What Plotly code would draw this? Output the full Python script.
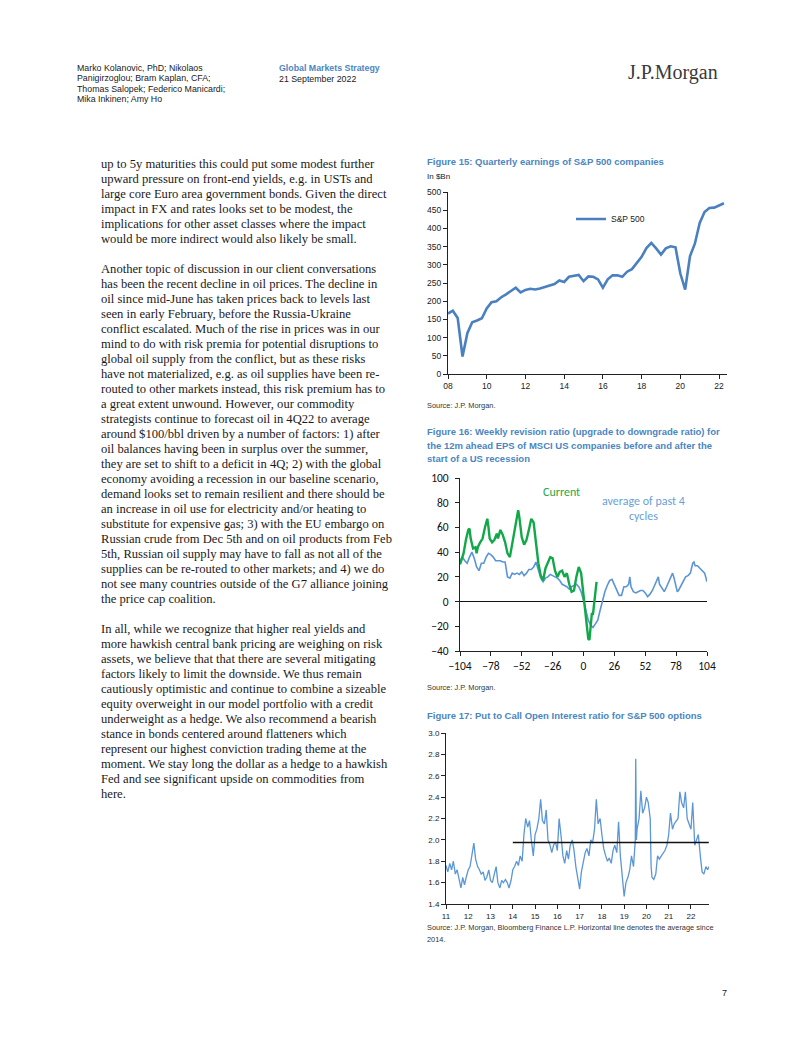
import plotly.graph_objects as go

W, H = 802, 1037
OFF = 8  # the page body margin shifts the figure by this many pixels

# ---------------- DATA ----------------
# Figure 15: quarterly S&P 500 earnings ($bn), 2008Q1 .. 2022Q2
sp_quarters = [2008 + i * 0.25 for i in range(58)]
sp_earnings = [166, 174, 154, 48, 112, 142, 147, 153, 180, 197, 200, 211,
               219, 228, 237, 224, 231, 234, 232, 235, 239, 244, 247, 257,
               253, 267, 269, 272, 255, 268, 267, 260, 237, 260, 271, 271,
               267, 281, 288, 306, 322, 346, 360, 345, 328, 345, 351, 348,
               276, 232, 324, 358, 415, 445, 456, 457, 463, 469]

# Figure 16: weekly revision ratio, weeks relative to recession start
cur_weeks = [-104, -101, -99, -97, -96, -95, -93, -91, -90, -89, -87, -85, -83, -81,
             -80, -79, -77, -75, -73, -72, -70, -68, -66, -64, -62, -60, -58, -56,
             -55, -54, -52, -50, -48, -46, -44, -42, -40, -38, -36, -34, -32, -30,
             -28, -26, -24, -22, -20, -18, -16, -14, -12, -10, -8, -6, -4, -2,
             0, 2, 4, 5, 6, 7, 8, 9, 10, 11]
cur_ratio = [30, 39, 50, 58, 59, 51, 43, 44, 39, 44, 48, 51, 60, 67,
             60, 51, 48, 50, 55, 51, 58, 54, 48, 39, 36, 47, 55, 68,
             74, 68, 52, 46, 50, 58, 67, 64, 47, 31, 21, 17, 27, 32,
             36, 35, 25, 20, 24, 25, 20, 23, 14, 8, 9, 20, 28, 23,
             4, -12, -30, -31, -18, -10, -10, 1, 10, 16]
avg_weeks = [-104, -102, -100, -98, -96, -94, -92, -90, -88, -86, -84, -82, -80, -78,
             -76, -74, -72, -70, -68, -66, -64, -62, -60, -58, -56, -54, -52, -50,
             -48, -46, -44, -42, -40, -38, -36, -34, -32, -30, -28, -26, -24, -22,
             -20, -18, -16, -14, -12, -10, -8, -6, -4, -2, 0, 2, 4, 6, 8, 10, 12,
             14, 16, 18, 20, 22, 24, 26, 28, 30, 32, 34, 36, 38, 39, 40, 42, 44,
             46, 48, 50, 52, 54, 56, 58, 60, 62, 63, 64, 66, 68, 70, 72, 74, 75,
             76, 78, 79, 80, 82, 84, 86, 88, 90, 92, 93, 94, 96, 98, 100, 102, 104]
avg_ratio = [33, 36, 33, 31, 36, 40, 35, 28, 25, 31, 31, 36, 39, 38,
             36, 33, 33, 33, 32, 32, 20, 19, 23, 22, 23, 22, 24, 21,
             23, 26, 26, 28, 32, 25, 19, 16, 19, 20, 22, 21, 20, 19,
             17, 14, 13, 12, 10, 12, 13, 14, 12, 8, 1, -7, -15, -19, -21, -18, -15,
             -7, 1, 8, 13, 17, 18, 14, 9, 5, 5, 12, 12, 14, 20, 12, 8, 7,
             8, 9, 9, 7, 4, 6, 9, 13, 17, 20, 14, 11, 8, 12, 16, 20, 23,
             20, 13, 8, 9, 13, 17, 20, 21, 23, 31, 32, 29, 29, 27, 25, 23, 16]

# Figure 17: put/call open interest ratio (monthly readings)
pc_dates = [2011.0, 2011.08, 2011.17, 2011.25, 2011.33, 2011.42, 2011.5, 2011.58, 2011.67, 2011.75,
            2011.83, 2011.92, 2012.0, 2012.08, 2012.17, 2012.25, 2012.33, 2012.42, 2012.5, 2012.58,
            2012.67, 2012.75, 2012.83, 2012.92, 2013.0, 2013.08, 2013.17, 2013.25, 2013.33, 2013.42,
            2013.5, 2013.58, 2013.67, 2013.75, 2013.83, 2013.92, 2014.0, 2014.08, 2014.17, 2014.25,
            2014.33, 2014.42, 2014.5, 2014.58, 2014.67, 2014.75, 2014.83, 2014.92, 2015.0, 2015.08,
            2015.17, 2015.25, 2015.33, 2015.42, 2015.5, 2015.58, 2015.67, 2015.75, 2015.83, 2015.92,
            2016.0, 2016.08, 2016.17, 2016.25, 2016.33, 2016.42, 2016.5, 2016.58, 2016.67, 2016.75,
            2016.83, 2016.92, 2017.0, 2017.08, 2017.17, 2017.25, 2017.33, 2017.42, 2017.5, 2017.58,
            2017.67, 2017.75, 2017.83, 2017.92, 2018.0, 2018.08, 2018.17, 2018.25, 2018.33, 2018.42,
            2018.5, 2018.58, 2018.67, 2018.75, 2018.83, 2018.92, 2019.0, 2019.08, 2019.17, 2019.25,
            2019.33, 2019.42, 2019.5, 2019.52, 2019.55, 2019.58, 2019.67, 2019.75, 2019.83, 2019.92,
            2020.0, 2020.08, 2020.17, 2020.21, 2020.25, 2020.33, 2020.42, 2020.5, 2020.58, 2020.67,
            2020.75, 2020.83, 2020.92, 2021.0, 2021.08, 2021.17, 2021.25, 2021.33, 2021.42, 2021.5,
            2021.58, 2021.67, 2021.75, 2021.83, 2021.92, 2022.0, 2022.08, 2022.17, 2022.25, 2022.33,
            2022.42, 2022.5, 2022.58, 2022.67, 2022.75, 2022.8]
pc_ratio = [1.76, 1.70, 1.78, 1.72, 1.80, 1.68, 1.72, 1.62, 1.55, 1.65,
            1.58, 1.66, 1.72, 1.75, 1.85, 1.97, 1.82, 1.75, 1.72, 1.68,
            1.70, 1.62, 1.65, 1.72, 1.62, 1.60, 1.68, 1.75, 1.60, 1.55,
            1.62, 1.60, 1.63, 1.60, 1.55, 1.62, 1.72, 1.75, 1.80, 1.76,
            1.85, 1.80, 2.05, 2.20, 2.12, 2.18, 2.00, 1.85, 2.05, 2.10,
            2.20, 2.38, 2.18, 2.15, 2.28, 2.00, 1.95, 1.88, 1.95, 1.98,
            1.90, 2.20, 2.03, 1.85, 1.78, 1.90, 1.82, 1.95, 2.00, 1.90,
            1.75, 1.65, 1.54, 1.70, 1.80, 1.88, 1.92, 1.85, 2.00, 1.97,
            2.10, 2.38, 2.15, 2.20, 2.05, 1.92, 1.85, 1.80, 1.83, 1.78,
            1.90, 1.95, 1.88, 2.17, 1.85, 1.65, 1.47, 1.60, 1.65, 1.72,
            1.85, 1.75, 2.00, 2.76, 2.00, 2.10, 2.20, 2.46, 2.25, 2.30,
            2.40, 2.35, 2.20, 1.75, 1.65, 1.63, 1.68, 1.85, 1.82, 1.85,
            1.88, 1.90, 1.95, 2.05, 2.25, 2.10, 2.15, 2.18, 2.20, 2.45,
            2.35, 2.30, 2.45, 2.20, 2.15, 2.10, 2.35, 1.95, 2.00, 2.05,
            1.85, 1.70, 1.68, 1.75, 1.72, 1.75]
pc_avg_start = 2014.0
pc_avg_value = 1.975

# ---------------- STYLE ----------------
SANS = "Liberation Sans, Arial, sans-serif"
SERIF = "Liberation Serif, Times New Roman, serif"
CALIBRI = "Carlito, Calibri, Lato, sans-serif"
TITLE_BLUE = "#4a86c2"
TXT = "#1a1a1a"

def px(x):
    return (x - OFF) / W

def py(y):
    return 1 - (y - OFF) / H

annotations = []

def text(x, y, s, size=13, family=SERIF, color=TXT, bold=False, anchor="left"):
    if bold:
        s = "<b>" + s + "</b>"
    annotations.append(dict(x=px(x), y=py(y), xref="paper", yref="paper", text=s,
                            showarrow=False, xanchor=anchor, yanchor="middle",
                            font=dict(size=size, family=family, color=color)))

# header
for i, s in enumerate(["Marko Kolanovic, PhD; Nikolaos", "Panigirzoglou; Bram Kaplan, CFA;",
                       "Thomas Salopek; Federico Manicardi;", "Mika Inkinen; Amy Ho"]):
    text(75, 68 + i * 10.3, s, size=8.8, family=SANS)
text(277, 68, "Global Markets Strategy", size=8.8, family=SANS, color=TITLE_BLUE, bold=True)
text(277, 79, "21 September 2022", size=8.8, family=SANS)
text(626, 72, "J.P.Morgan", size=20, family=SERIF, color="#3a3a3a")

# body text
para1 = ["up to 5y maturities this could put some modest further",
         "upward pressure on front-end yields, e.g. in USTs and",
         "large core Euro area government bonds. Given the direct",
         "impact in FX and rates looks set to be modest, the",
         "implications for other asset classes where the impact",
         "would be more indirect would also likely be small."]
para2 = ["Another topic of discussion in our client conversations",
         "has been the recent decline in oil prices. The decline in",
         "oil since mid-June has taken prices back to levels last",
         "seen in early February, before the Russia-Ukraine",
         "conflict escalated. Much of the rise in prices was in our",
         "mind to do with risk premia for potential disruptions to",
         "global oil supply from the conflict, but as these risks",
         "have not materialized, e.g. as oil supplies have been re-",
         "routed to other markets instead, this risk premium has to",
         "a great extent unwound. However, our commodity",
         "strategists continue to forecast oil in 4Q22 to average",
         "around $100/bbl driven by a number of factors: 1) after",
         "oil balances having been in surplus over the summer,",
         "they are set to shift to a deficit in 4Q; 2) with the global",
         "economy avoiding a recession in our baseline scenario,",
         "demand looks set to remain resilient and there should be",
         "an increase in oil use for electricity and/or heating to",
         "substitute for expensive gas; 3) with the EU embargo on",
         "Russian crude from Dec 5th and on oil products from Feb",
         "5th, Russian oil supply may have to fall as not all of the",
         "supplies can be re-routed to other markets; and 4) we do",
         "not see many countries outside of the G7 alliance joining",
         "the price cap coalition."]
para3 = ["In all, while we recognize that higher real yields and",
         "more hawkish central bank pricing are weighing on risk",
         "assets, we believe that that there are several mitigating",
         "factors likely to limit the downside. We thus remain",
         "cautiously optimistic and continue to combine a sizeable",
         "equity overweight in our model portfolio with a credit",
         "underweight as a hedge. We also recommend a bearish",
         "stance in bonds centered around flatteners which",
         "represent our highest conviction trading theme at the",
         "moment. We stay long the dollar as a hedge to a hawkish",
         "Fed and see significant upside on commodities from",
         "here."]
yy = 164
for para in (para1, para2, para3):
    for line in para:
        text(99, yy, line, size=12.6)
        yy += 15
    yy += 15

# figure titles / sources
TS = 9.5
text(425, 162, "Figure 15: Quarterly earnings of S&P 500 companies", size=TS, family=SANS,
     color=TITLE_BLUE, bold=True)
text(425, 176, "In $Bn", size=8, family=SANS)
text(425, 405, "Source: J.P. Morgan.", size=7.4, family=SANS, color="#333")

for i, s in enumerate(["Figure 16: Weekly revision ratio (upgrade to downgrade ratio) for",
                       "the 12m ahead EPS of MSCI US companies before and after the",
                       "start of a US recession"]):
    text(425, 432 + i * 13.3, s, size=TS, family=SANS, color=TITLE_BLUE, bold=True)
text(425, 687, "Source: J.P. Morgan.", size=7.4, family=SANS, color="#333")

text(425, 715, "Figure 17: Put to Call Open Interest ratio for S&P 500 options", size=TS,
     family=SANS, color=TITLE_BLUE, bold=True)
text(425, 927, "Source: J.P. Morgan, Bloomberg Finance L.P. Horizontal line denotes the average since",
     size=7.4, family=SANS, color="#333")
text(425, 939, "2014.", size=7.4, family=SANS, color="#333")

# chart 2 labels
text(561, 492, "Current", size=12, family=CALIBRI, color="#1fa64a", anchor="center")
text(643, 501, "average of past 4", size=12, family=CALIBRI, color="#6a9fd8", anchor="center")
text(643, 516, "cycles", size=12, family=CALIBRI, color="#6a9fd8", anchor="center")

# page number
text(720, 993, "7", size=9, family=SANS)

# ---------------- TRACES ----------------
fig = go.Figure()
fig.add_trace(go.Scatter(x=sp_quarters, y=sp_earnings, mode="lines", name="S&P 500",
                         line=dict(color="#4a80c0", width=2.6), xaxis="x", yaxis="y",
                         showlegend=True))
fig.add_trace(go.Scatter(x=avg_weeks, y=avg_ratio, mode="lines", line=dict(color="#5b95d6", width=1.6),
                         xaxis="x2", yaxis="y2", showlegend=False))
fig.add_trace(go.Scatter(x=cur_weeks, y=cur_ratio, mode="lines", line=dict(color="#12a84a", width=2.4),
                         xaxis="x2", yaxis="y2", showlegend=False))
fig.add_trace(go.Scatter(x=pc_dates, y=pc_ratio, mode="lines", line=dict(color="#5b97d6", width=1.3),
                         xaxis="x3", yaxis="y3", showlegend=False))
fig.add_trace(go.Scatter(x=[pc_avg_start, pc_dates[-1]], y=[pc_avg_value, pc_avg_value], mode="lines",
                         line=dict(color="#111", width=1.4), xaxis="x3", yaxis="y3", showlegend=False))

axis_common = dict(showgrid=False, zeroline=False, showline=True, linecolor="#222", linewidth=1,
                   ticks="outside", tickcolor="#222", ticklen=4)

fig.update_layout(
    width=W, height=H, margin=dict(l=0, r=0, t=0, b=0, pad=0, autoexpand=False),
    paper_bgcolor="white", plot_bgcolor="white",
    annotations=annotations,
    showlegend=True,
    legend=dict(x=px(571), y=py(219), xanchor="left", yanchor="middle", bgcolor="rgba(0,0,0,0)",
                font=dict(size=8.5, family=SANS, color="#222"), itemwidth=30),
    xaxis=dict(domain=[px(448), px(727)], range=[2008, 2022.41], anchor="y",
               tickvals=[2008, 2010, 2012, 2014, 2016, 2018, 2020, 2022],
               ticktext=["08", "10", "12", "14", "16", "18", "20", "22"],
               tickfont=dict(size=8.5, family=SANS, color="#222"), **axis_common),
    yaxis=dict(domain=[py(374), py(192)], range=[0, 500], anchor="x", dtick=50,
               tickfont=dict(size=8.5, family=SANS, color="#222"), **axis_common),
    xaxis2=dict(domain=[px(460), px(707)], range=[-104, 104], anchor="y2",
                tickvals=[-104, -78, -52, -26, 0, 26, 52, 78, 104],
                tickfont=dict(size=11.5, family=CALIBRI, color="#111"),
                showgrid=False, zeroline=False, showline=True, linecolor="#222", linewidth=1,
                ticks="outside", tickcolor="#222", ticklen=4),
    yaxis2=dict(domain=[py(651), py(478)], range=[-40, 100], anchor="x2", dtick=20,
                tickfont=dict(size=11.5, family=CALIBRI, color="#111"),
                showgrid=False, zeroline=True, zerolinecolor="#111", zerolinewidth=1.3,
                showline=True, linecolor="#222", linewidth=1,
                ticks="outside", tickcolor="#222", ticklen=4, ticklabelstandoff=4),
    xaxis3=dict(domain=[px(446), px(709)], range=[2011, 2022.81], anchor="y3",
                tickvals=list(range(2011, 2023)),
                ticktext=[str(y - 2000) for y in range(2011, 2023)],
                tickfont=dict(size=8, family=SANS, color="#222"), **axis_common),
    yaxis3=dict(domain=[py(904), py(733)], range=[1.4, 3.0], anchor="x3", dtick=0.2,
                tickformat=".1f",
                tickfont=dict(size=8, family=SANS, color="#222"), **axis_common),
)

fig.write_html("out.html")
